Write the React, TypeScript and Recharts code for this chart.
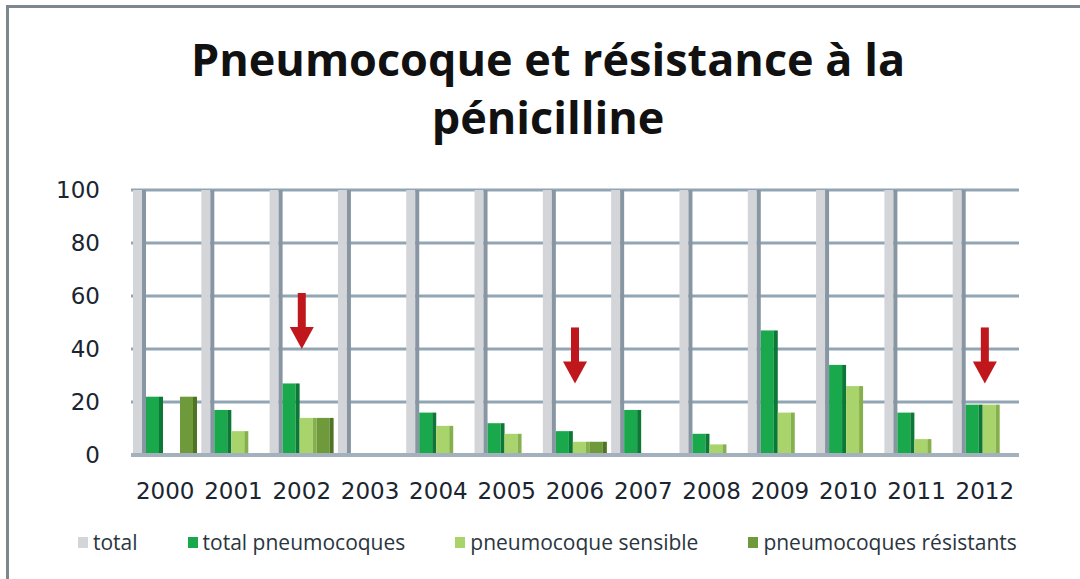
import React from 'react';
import { BarChart, Bar, XAxis, YAxis, CartesianGrid, ReferenceDot } from 'recharts';

const years = ['2000', '2001', '2002', '2003', '2004', '2005', '2006', '2007', '2008', '2009', '2010', '2011', '2012'];
const total = [100, 100, 100, 100, 100, 100, 100, 100, 100, 100, 100, 100, 100];
const totalPneumo = [22, 17, 27, 0.5, 16, 12, 9, 17, 8, 47, 34, 16, 19];
const sensible = [0.5, 9, 14, 0.5, 11, 8, 5, 0.5, 4, 16, 26, 6, 19];
const resistants = [22, 0.5, 14, 0.5, 0.5, 0.5, 5, 0.5, 0.5, 0.5, 0.5, 0.5, 0.5];
const yTicks = [0, 20, 40, 60, 80, 100];

// red arrows pointing at some years (value = tip of the arrow)
const arrowYears = ['2002', '2006', '2012'];
const arrowTips = [40, 27, 27];

const series = [
  { key: 'total', name: 'total', color: '#d3d5d9', side: '#8796a2', size: 13 },
  { key: 'totalPneumo', name: 'total pneumocoques', color: '#19a84b', side: '#0c7835', size: 17 },
  { key: 'sensible', name: 'pneumocoque sensible', color: '#a9d46c', side: '#86b04c', size: 17 },
  { key: 'resistants', name: 'pneumocoques résistants', color: '#6f9a3b', side: '#4f7426', size: 17 },
];

const data = years.map((y, i) => ({
  year: y,
  total: total[i],
  totalPneumo: totalPneumo[i],
  sensible: sensible[i],
  resistants: resistants[i],
}));

// bar with a darker right face, a bit like the 3D look of the original
const makeShape = (color: string, side: string) => (props: any) => {
  const { x, y, width, height } = props;
  if (!height || height <= 0) return <g />;
  const s = Math.max(4, Math.round(width * 0.24));
  return (
    <g>
      <rect x={x} y={y} width={width - s} height={height} fill={color} />
      <rect x={x + width - s} y={y} width={s} height={height} fill={side} />
    </g>
  );
};

const Arrow = (props: any) => {
  const { cx, cy } = props;
  if (cx == null || cy == null) return <g />;
  return (
    <g>
      <rect x={cx - 4} y={cy - 56} width={8} height={36} fill="#c0171d" />
      <polygon points={`${cx - 12},${cy - 22} ${cx + 12},${cy - 22} ${cx},${cy}`} fill="#c0171d" />
    </g>
  );
};

const tickFont = { fill: '#1a2530', fontSize: 23, fontFamily: '"DejaVu Sans", sans-serif' };

export default function App() {
  return (
    <div style={{ position: 'absolute', left: 0, top: 0, width: 1080, height: 579, background: '#fff', overflow: 'hidden' }}>
      {/* frame: top and left edges only */}
      <div style={{ position: 'absolute', left: 6, top: 5, width: 1074, height: 3, background: '#7d878d' }} />
      <div style={{ position: 'absolute', left: 6, top: 5, width: 3, height: 574, background: '#7d878d' }} />
      <div
        style={{
          position: 'absolute', left: 0, top: 30, width: 1096, textAlign: 'center',
          fontFamily: '"Open Sans", sans-serif', fontWeight: 700, fontSize: 45, lineHeight: '58px', color: '#111',
        }}
      >
        Pneumocoque et résistance à la
        <br />
        pénicilline
      </div>
      <div style={{ position: 'absolute', left: 0, top: 0 }}>
        <BarChart
          width={1080}
          height={579}
          data={data}
          margin={{ top: 190, right: 61, left: 71, bottom: 84 }}
          barGap={0}
          barCategoryGap={4}
        >
          <CartesianGrid vertical={false} stroke="#91a5b4" strokeWidth={3} />
          <XAxis
            dataKey="year"
            axisLine={{ stroke: '#a3b1bc', strokeWidth: 4 }}
            tickLine={false}
            height={40}
            tickMargin={22}
            tick={tickFont}
          />
          <YAxis
            domain={[0, 100]}
            ticks={yTicks}
            axisLine={false}
            tickLine={false}
            tickSize={0}
            tickMargin={31}
            width={60}
            tick={tickFont}
          />
          {series.map((s) => (
            <Bar
              key={s.key}
              dataKey={s.key}
              name={s.name}
              fill={s.color}
              barSize={s.size}
              shape={makeShape(s.color, s.side)}
              isAnimationActive={false}
            />
          ))}
          {arrowYears.map((y, i) => (
            <ReferenceDot key={y} x={y} y={arrowTips[i]} shape={Arrow} ifOverflow="visible" />
          ))}
        </BarChart>
      </div>
      <div
        style={{
          position: 'absolute', left: 78, top: 528, display: 'flex', gap: 50,
          fontFamily: '"Open Sans", sans-serif', fontSize: 21, color: '#2a3540',
        }}
      >
        {series.map((s) => (
          <div key={s.key} style={{ display: 'flex', alignItems: 'center' }}>
            <span style={{ display: 'inline-block', width: 10, height: 11, background: s.color, marginRight: 5 }} />
            {s.name}
          </div>
        ))}
      </div>
    </div>
  );
}
